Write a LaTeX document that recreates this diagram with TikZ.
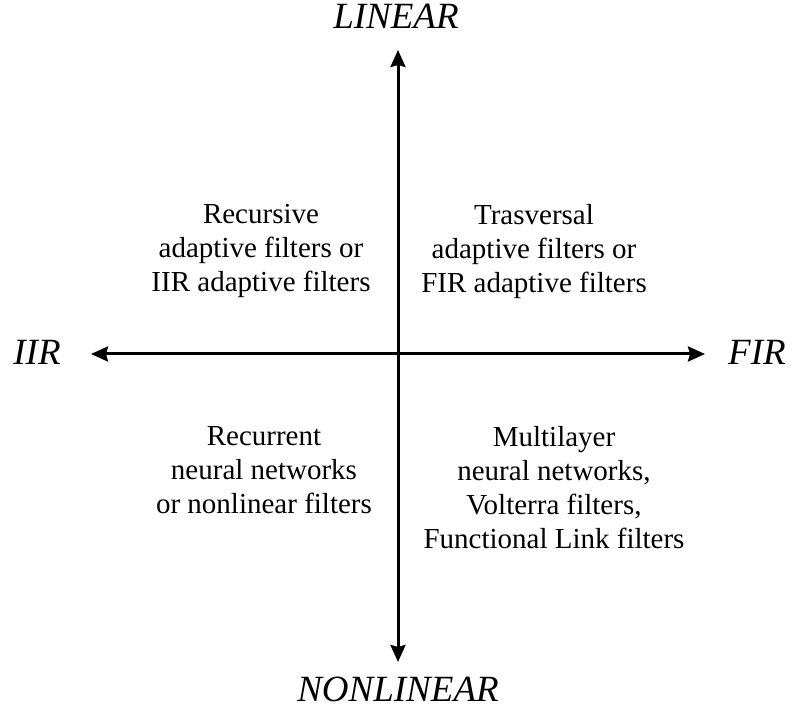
\documentclass[tikz,border=0pt]{standalone}
\usepackage{fontspec}
\setmainfont{Liberation Serif}
\usetikzlibrary{arrows.meta}

\tikzset{
  axis/.style={line width=3pt, -{Stealth[length=17pt,width=15pt,inset=2pt]}},
  axislabel/.style={font=\fontsize{37}{42}\selectfont\itshape, inner sep=0pt},
  quadtext/.style={font=\fontsize{29}{34}\selectfont, align=center, inner sep=0pt, anchor=north}
}

\begin{document}
\begin{tikzpicture}[x=1pt,y=1pt]
  \useasboundingbox (0,0) rectangle (793,711);
  % axes
  \coordinate (origin) at (398,357);
  \coordinate (linTip) at (398,661);
  \coordinate (nonTip) at (398,49);
  \coordinate (iirTip) at (91,357);
  \coordinate (firTip) at (705,357);
  \draw[axis] (origin) -- (linTip);
  \draw[axis] (origin) -- (nonTip);
  \draw[axis] (origin) -- (iirTip);
  \draw[axis] (origin) -- (firTip);
  % axis labels
  \node[axislabel, anchor=base] (linear) at (396,682) {LINEAR};
  \node[axislabel, anchor=base] (nonlinear) at (398,9) {NONLINEAR};
  \node[axislabel, anchor=base] (iir) at (37,346) {IIR};
  \node[axislabel, anchor=base] (fir) at (757,346) {FIR};
  % quadrants
  \node[quadtext] (recursive) at (261,507) {Recursive\\adaptive filters or\\IIR adaptive filters};
  \node[quadtext] (trasversal) at (534,507) {Trasversal\\adaptive filters or\\FIR adaptive filters};
  \node[quadtext] (recurrent) at (264,285) {Recurrent\\neural networks\\or nonlinear filters};
  \node[quadtext] (multilayer) at (554,285) {Multilayer\\neural networks,\\Volterra filters,\\Functional Link filters};
\end{tikzpicture}
\end{document}
